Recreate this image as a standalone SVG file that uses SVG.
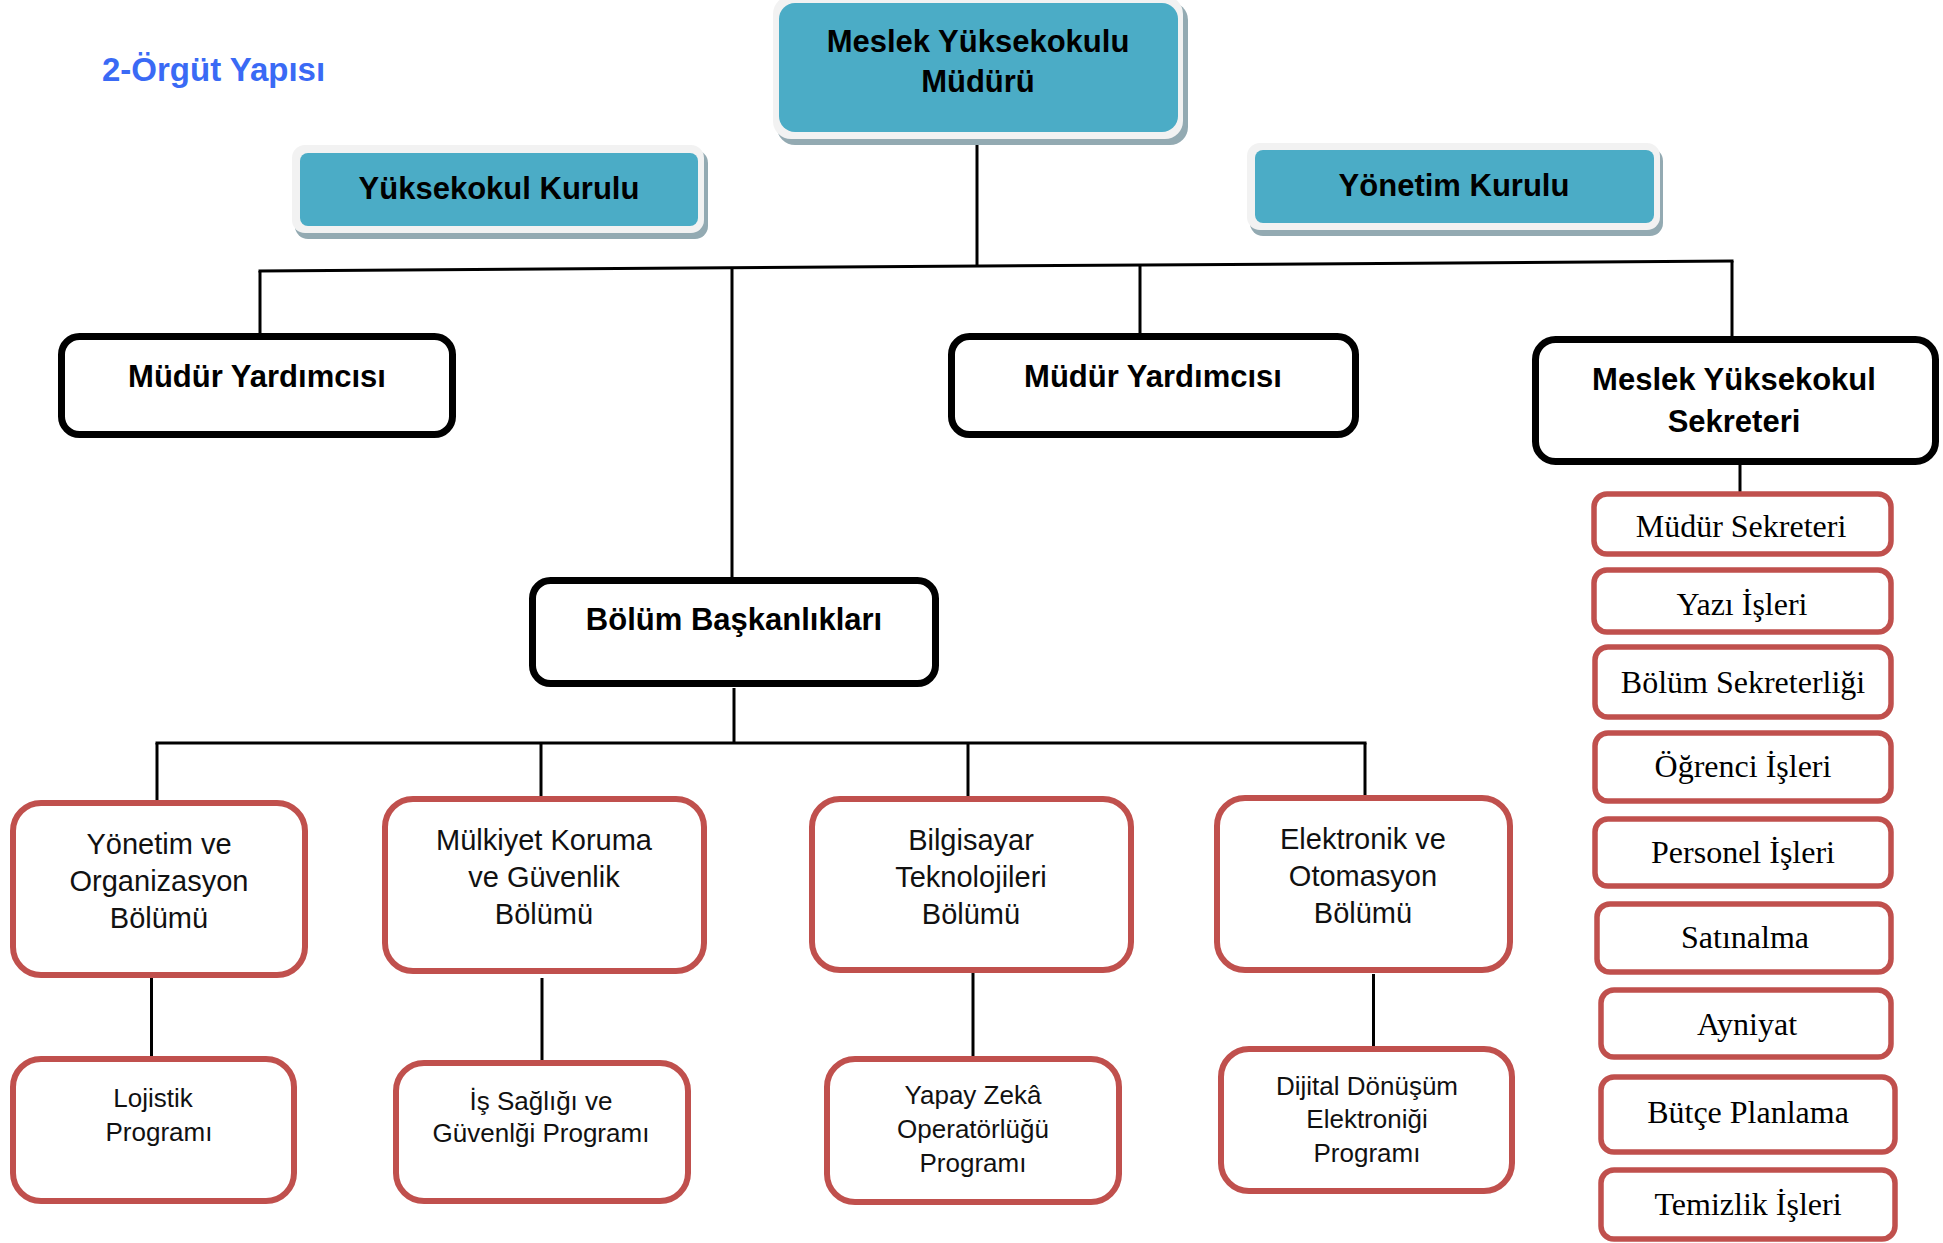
<svg xmlns="http://www.w3.org/2000/svg" width="1943" height="1243" viewBox="0 0 1943 1243">
<style>
.bg{fill:#ffffff}
.bez{fill:#f2f2f2}
.shd{fill:#93aab2}
.blue{fill:#4bacc6}
.blk{fill:#ffffff;stroke:#000000;stroke-width:7}
.red{fill:#ffffff;stroke:#c0504d;stroke-width:6}
.redS{fill:#ffffff;stroke:#c0504d;stroke-width:5.5}
.conn{fill:none;stroke:#000000;stroke-width:3;stroke-linecap:butt}
.tb{font-family:"Liberation Sans",Arial,sans-serif;font-weight:bold;font-size:31px;fill:#000000;text-anchor:middle}
.tr{font-family:"Liberation Sans",Arial,sans-serif;font-size:29px;fill:#111111;text-anchor:middle}
.tp{font-family:"Liberation Sans",Arial,sans-serif;font-size:26px;fill:#111111;text-anchor:middle}
.ts{font-family:"Liberation Serif","Times New Roman",serif;font-size:32px;fill:#000000;text-anchor:middle}
.title{font-family:"Liberation Sans",Arial,sans-serif;font-weight:bold;font-size:33px;fill:#3a6af5}
</style>
<rect class="bg" x="0" y="0" width="1943" height="1243"/>
<text class="title" x="102" y="81">2-Örgüt Yapısı</text>

<g id="connectors">
<line class="conn" x1="977" y1="140" x2="977" y2="267"/>
<line class="conn" x1="258.5" y1="271" x2="1733.5" y2="261"/>
<line class="conn" x1="260" y1="271" x2="260" y2="335"/>
<line class="conn" x1="732" y1="268" x2="732" y2="578"/>
<line class="conn" x1="1140" y1="264" x2="1140" y2="335"/>
<line class="conn" x1="1732" y1="261" x2="1732" y2="338"/>
<line class="conn" x1="1740" y1="465" x2="1740" y2="493"/>
<line class="conn" x1="734" y1="688" x2="734" y2="743"/>
<line class="conn" x1="155.5" y1="743" x2="1366.5" y2="743"/>
<line class="conn" x1="157" y1="743" x2="157" y2="802"/>
<line class="conn" x1="541" y1="743" x2="541" y2="797"/>
<line class="conn" x1="968" y1="743" x2="968" y2="797"/>
<line class="conn" x1="1365" y1="743" x2="1365" y2="796"/>
<line class="conn" x1="151.5" y1="978" x2="151.5" y2="1057"/>
<line class="conn" x1="542" y1="978" x2="542" y2="1061"/>
<line class="conn" x1="973" y1="973" x2="973" y2="1057"/>
<line class="conn" x1="1373.5" y1="974" x2="1373.5" y2="1047"/>
</g>

<g id="mudur">
<rect class="shd" x="777" y="2" width="411" height="143" rx="18"/>
<rect class="bez" x="773" y="-4" width="410" height="143" rx="18"/>
<rect class="blue" x="779" y="3" width="399" height="129" rx="16"/>
<text class="tb" x="978" y="52">Meslek Yüksekokulu</text>
<text class="tb" x="978" y="92">Müdürü</text>
</g>

<g id="yuksekokul-kurulu">
<rect class="shd" x="295" y="150" width="413" height="89" rx="13"/>
<rect class="bez" x="292" y="145" width="412" height="88" rx="13"/>
<rect class="blue" x="300" y="153" width="398" height="73" rx="8"/>
<text class="tb" x="499" y="199">Yüksekokul Kurulu</text>
</g>

<g id="yonetim-kurulu">
<rect class="shd" x="1250" y="148" width="413" height="88" rx="13"/>
<rect class="bez" x="1247" y="143" width="413" height="87" rx="13"/>
<rect class="blue" x="1255" y="150" width="399" height="73" rx="8"/>
<text class="tb" x="1454" y="196">Yönetim Kurulu</text>
</g>

<g id="mudur-yardimcisi-1">
<rect class="blk" x="61.5" y="336.5" width="391" height="98" rx="18"/>
<text class="tb" x="257" y="387">Müdür Yardımcısı</text>
</g>

<g id="mudur-yardimcisi-2">
<rect class="blk" x="951.5" y="336.5" width="404" height="98" rx="18"/>
<text class="tb" x="1153" y="387">Müdür Yardımcısı</text>
</g>

<g id="sekreter">
<rect class="blk" x="1535.5" y="339.5" width="400" height="122" rx="20"/>
<text class="tb" x="1734" y="390">Meslek Yüksekokul</text>
<text class="tb" x="1734" y="432">Sekreteri</text>
</g>

<g id="bolum-baskanliklari">
<rect class="blk" x="532.5" y="580.5" width="403" height="103" rx="18"/>
<text class="tb" x="734" y="630">Bölüm Başkanlıkları</text>
</g>

<g id="yonetim-org">
<rect class="red" x="13" y="803" width="292" height="172" rx="28"/>
<text class="tr" x="159" y="854">Yönetim ve</text>
<text class="tr" x="159" y="891">Organizasyon</text>
<text class="tr" x="159" y="928">Bölümü</text>
</g>

<g id="mulkiyet">
<rect class="red" x="385" y="799" width="319" height="172" rx="28"/>
<text class="tr" x="544" y="850">Mülkiyet Koruma</text>
<text class="tr" x="544" y="887">ve Güvenlik</text>
<text class="tr" x="544" y="924">Bölümü</text>
</g>

<g id="bilgisayar">
<rect class="red" x="812" y="799" width="319" height="171" rx="28"/>
<text class="tr" x="971" y="850">Bilgisayar</text>
<text class="tr" x="971" y="887">Teknolojileri</text>
<text class="tr" x="971" y="924">Bölümü</text>
</g>

<g id="elektronik">
<rect class="red" x="1217" y="798" width="293" height="172" rx="28"/>
<text class="tr" x="1363" y="849">Elektronik ve</text>
<text class="tr" x="1363" y="886">Otomasyon</text>
<text class="tr" x="1363" y="923">Bölümü</text>
</g>

<g id="lojistik">
<rect class="red" x="13" y="1059" width="281" height="142" rx="28"/>
<text class="tp" x="153" y="1107">Lojistik</text>
<text class="tp" x="159" y="1141">Programı</text>
</g>

<g id="is-sagligi">
<rect class="red" x="396" y="1063" width="292" height="138" rx="28"/>
<text class="tp" x="541" y="1110">İş Sağlığı ve</text>
<text class="tp" x="541" y="1142">Güvenlği Programı</text>
</g>

<g id="yapay-zeka">
<rect class="red" x="827" y="1059" width="292" height="143" rx="28"/>
<text class="tp" x="973" y="1104">Yapay Zekâ</text>
<text class="tp" x="973" y="1138">Operatörlüğü</text>
<text class="tp" x="973" y="1172">Programı</text>
</g>

<g id="dijital">
<rect class="red" x="1221" y="1049" width="291" height="142" rx="28"/>
<text class="tp" x="1367" y="1095">Dijital Dönüşüm</text>
<text class="tp" x="1367" y="1128">Elektroniği</text>
<text class="tp" x="1367" y="1162">Programı</text>
</g>

<g id="mudur-sekreteri">
<rect class="redS" x="1594" y="494" width="297" height="60" rx="13"/>
<text class="ts" x="1741" y="537">Müdür Sekreteri</text>
</g>
<g id="yazi-isleri">
<rect class="redS" x="1594" y="570" width="297" height="62" rx="13"/>
<text class="ts" x="1742" y="615">Yazı İşleri</text>
</g>
<g id="bolum-sekreterligi">
<rect class="redS" x="1595" y="647" width="296" height="70" rx="13"/>
<text class="ts" x="1743" y="693">Bölüm Sekreterliği</text>
</g>
<g id="ogrenci-isleri">
<rect class="redS" x="1595" y="733" width="296" height="68" rx="13"/>
<text class="ts" x="1743" y="777">Öğrenci İşleri</text>
</g>
<g id="personel-isleri">
<rect class="redS" x="1595" y="819" width="296" height="67" rx="13"/>
<text class="ts" x="1743" y="863">Personel İşleri</text>
</g>
<g id="satinalma">
<rect class="redS" x="1597" y="904" width="294" height="68" rx="13"/>
<text class="ts" x="1745" y="948">Satınalma</text>
</g>
<g id="ayniyat">
<rect class="redS" x="1601" y="990" width="290" height="67" rx="13"/>
<text class="ts" x="1747" y="1035">Ayniyat</text>
</g>
<g id="butce-planlama">
<rect class="redS" x="1601" y="1077" width="294" height="75" rx="13"/>
<text class="ts" x="1748" y="1123">Bütçe Planlama</text>
</g>
<g id="temizlik-isleri">
<rect class="redS" x="1601" y="1170" width="294" height="69" rx="13"/>
<text class="ts" x="1748" y="1215">Temizlik İşleri</text>
</g>
</svg>
